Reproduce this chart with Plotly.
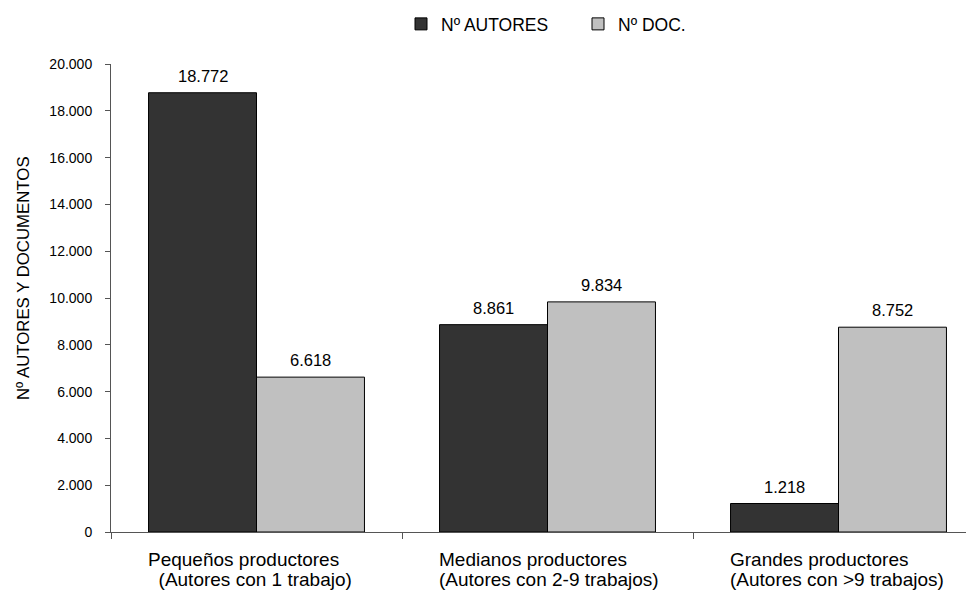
import plotly.graph_objects as go

# ---- data ----
cat_line1 = ["Pequeños productores", "Medianos productores", "Grandes productores"]
cat_line2 = ["\u00a0\u00a0(Autores con 1 trabajo)", "(Autores con 2-9 trabajos)", "(Autores con >9 trabajos)"]
series_names = ["Nº AUTORES", "Nº DOC."]
n_autores = [18772, 8861, 1218]
n_doc = [6618, 9834, 8752]
y_ticks = [0, 2000, 4000, 6000, 8000, 10000, 12000, 14000, 16000, 18000, 20000]
y_title = "Nº AUTORES Y DOCUMENTOS"

FONT = "Liberation Sans, Arial, sans-serif"
xpos = list(range(len(cat_line1)))
bargap = 0.258
half = (1 - bargap) / 4  # centre offset of each bar in a group of two

fig = go.Figure()
fig.add_trace(go.Bar(x=xpos, y=n_autores, name=series_names[0],
                     marker=dict(color="#333333", line=dict(color="#000000", width=1))))
fig.add_trace(go.Bar(x=xpos, y=n_doc, name=series_names[1],
                     marker=dict(color="#C0C0C0", line=dict(color="#000000", width=1))))

def fmt(v):
    return f"{v:,}".replace(",", ".")

annotations = []
for i, (a, d) in enumerate(zip(n_autores, n_doc)):
    for off, v in ((-half, a), (half, d)):
        annotations.append(dict(x=i + off, y=v, xref="x", yref="y", text=fmt(v),
                                showarrow=False, yanchor="bottom", yshift=6,
                                font=dict(family=FONT, size=16.5, color="#000000")))
    annotations.append(dict(x=i, y=0, xref="x", yref="paper", text=cat_line1[i],
                            showarrow=False, xanchor="left", xshift=-111, yanchor="top",
                            yshift=-15, font=dict(family=FONT, size=19, color="#000000")))
    annotations.append(dict(x=i, y=0, xref="x", yref="paper", text=cat_line2[i],
                            showarrow=False, xanchor="left", xshift=-111, yanchor="top",
                            yshift=-35, font=dict(family=FONT, size=19, color="#000000")))

annotations.append(dict(x=0, y=0.5427, xref="paper", yref="paper", text=y_title,
                        textangle=-90, showarrow=False, xanchor="center", yanchor="middle",
                        xshift=-88, font=dict(family=FONT, size=16.8, color="#000000")))

fig.update_layout(
    width=974, height=594,
    margin=dict(l=103, r=0, t=56, b=70),
    paper_bgcolor="white", plot_bgcolor="white",
    barmode="group", bargap=bargap, bargroupgap=0,
    separators=",.",
    font=dict(family=FONT, color="#000000"),
    showlegend=True,
    legend=dict(orientation="h", xref="container", yref="container",
                x=393 / 974, y=1 - 16 / 594, xanchor="left", yanchor="middle",
                font=dict(family=FONT, size=17.5), entrywidth=132,
                bgcolor="rgba(0,0,0,0)"),
    xaxis=dict(range=[-0.5, -0.5 + 871 / 291], showgrid=False, zeroline=False,
               showline=True, linecolor="#555555", linewidth=1,
               tickmode="array", tickvals=[-0.5, 0.5, 1.5, 2.5], ticktext=["", "", "", ""],
               ticks="outside", ticklen=6, tickcolor="#555555"),
    yaxis=dict(range=[0, 20000], showgrid=False, zeroline=False,
               showline=True, linecolor="#555555", linewidth=1,
               tickmode="array", tickvals=y_ticks, tickformat=",d",
               ticks="outside", ticklen=5, tickcolor="#555555",
               ticklabelstandoff=10,
               tickfont=dict(family=FONT, size=14, color="#000000")),
    annotations=annotations,
)

fig.write_html("out.html")
